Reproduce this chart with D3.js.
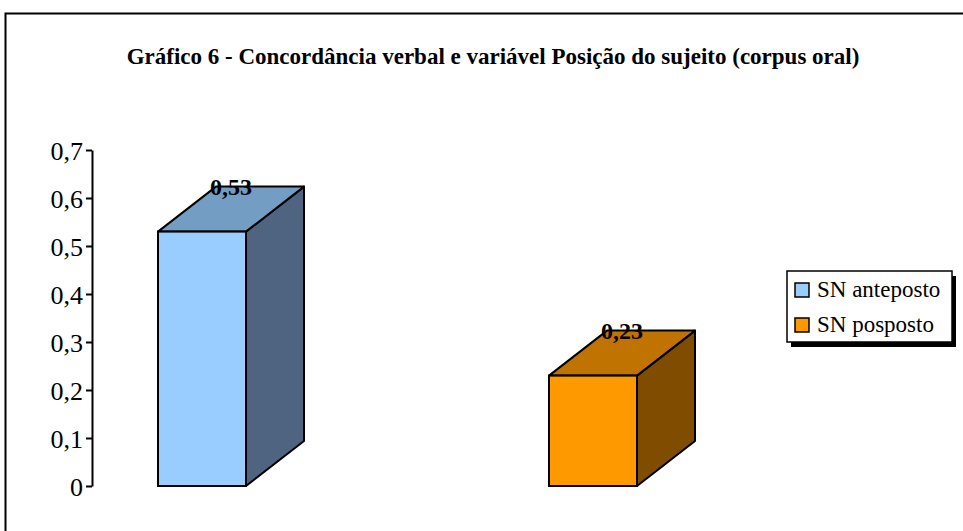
<!DOCTYPE html>
<html>
<head>
<meta charset="utf-8">
<script src="https://cdn.jsdelivr.net/npm/d3@7"></script>
<style>
  body { margin: 0; background: #fff; }
  svg { display: block; }
</style>
</head>
<body>
<div id="chart"></div>
<script>
// Data
const categories = ["SN anteposto", "SN posposto"];
const values = [0.53, 0.23];
const yTicks = [0, 0.1, 0.2, 0.3, 0.4, 0.5, 0.6, 0.7];
const title = "Gráfico 6 - Concordância verbal e variável Posição do sujeito (corpus oral)";

// Colours: front, side, top
const palette = [
    { front: "#99CCFF", side: "#4F6480", top: "#749DC4" },
    { front: "#FF9900", side: "#7F4C00", top: "#C07300" }
];

const width = 963;
const height = 531;
const font = "'Liberation Serif', 'Times New Roman', serif";

const svg = d3.select("#chart")
    .append("svg")
    .attr("width", width)
    .attr("height", height);

// Outer frame (only left and top edges visible)
svg.append("path")
    .attr("d", `M5.5,${height} L5.5,13.5 L${width},13.5`)
    .attr("fill", "none")
    .attr("stroke", "#000")
    .attr("stroke-width", 2);

// Title
svg.append("text")
    .attr("x", 493)
    .attr("y", 64)
    .attr("text-anchor", "middle")
    .style("font-family", font)
    .style("font-size", "23px")
    .style("font-weight", "bold")
    .text(title);

// Scales
const y = d3.scaleLinear()
    .domain([0, 0.7])
    .range([486, 150]);

const x = d3.scaleBand()
    .domain(categories)
    .range([92, 874]);

const barWidth = 88;
const barOffset = 66;
const depthX = 58;
const depthY = 45;

// Y axis
const yAxis = d3.axisLeft(y)
    .tickValues(yTicks)
    .tickSize(6)
    .tickSizeOuter(0)
    .tickPadding(3)
    .tickFormat(d => d === 0 ? "0" : d3.format(".1f")(d).replace(".", ","));

const gAxis = svg.append("g")
    .attr("transform", "translate(92,0)")
    .call(yAxis);

gAxis.select(".domain").attr("stroke-width", 2);
gAxis.selectAll(".tick line").attr("stroke-width", 2);
gAxis.selectAll(".tick text")
    .attr("dy", "0.38em")
    .style("font-family", font)
    .style("font-size", "26px")
    .attr("fill", "#000");

// 3D bars
const bars = svg.selectAll(".bar")
    .data(values)
    .enter()
    .append("g")
    .attr("class", "bar");

bars.each(function (v, i) {
    const g = d3.select(this);
    const x0 = x(categories[i]) + barOffset;
    const x1 = x0 + barWidth;
    const yTop = y(v);
    const yBase = y(0);
    const c = palette[i];

    // side face
    g.append("polygon")
        .attr("points", [[x1, yBase], [x1 + depthX, yBase - depthY], [x1 + depthX, yTop - depthY], [x1, yTop]].join(" "))
        .attr("fill", c.side)
        .attr("stroke", "#000")
        .attr("stroke-width", 2)
        .attr("stroke-linejoin", "round");

    // top face
    g.append("polygon")
        .attr("points", [[x0, yTop], [x0 + depthX, yTop - depthY], [x1 + depthX, yTop - depthY], [x1, yTop]].join(" "))
        .attr("fill", c.top)
        .attr("stroke", "#000")
        .attr("stroke-width", 2)
        .attr("stroke-linejoin", "round");

    // front face
    g.append("rect")
        .attr("x", x0)
        .attr("y", yTop)
        .attr("width", barWidth)
        .attr("height", yBase - yTop)
        .attr("fill", c.front)
        .attr("stroke", "#000")
        .attr("stroke-width", 2);

    // value label
    g.append("text")
        .attr("x", (x0 + x1 + depthX) / 2)
        .attr("y", yTop - depthY + 8)
        .attr("text-anchor", "middle")
        .style("font-family", font)
        .style("font-size", "24px")
        .style("font-weight", "bold")
        .text(d3.format(".2f")(v).replace(".", ","));
});

// Legend
const legend = svg.append("g").attr("transform", "translate(787,271)");

legend.append("rect")
    .attr("x", 4)
    .attr("y", 5)
    .attr("width", 165)
    .attr("height", 71)
    .attr("fill", "#000");

legend.append("rect")
    .attr("x", 0)
    .attr("y", 0)
    .attr("width", 165)
    .attr("height", 71)
    .attr("fill", "#fff")
    .attr("stroke", "#000")
    .attr("stroke-width", 1.5);

const items = legend.selectAll(".item")
    .data(categories)
    .enter()
    .append("g")
    .attr("class", "item")
    .attr("transform", (d, i) => `translate(8,${12 + i * 35})`);

items.append("rect")
    .attr("width", 14)
    .attr("height", 14)
    .attr("fill", (d, i) => palette[i].front)
    .attr("stroke", "#000")
    .attr("stroke-width", 1.5);

items.append("text")
    .attr("x", 22)
    .attr("y", 14)
    .style("font-family", font)
    .style("font-size", "23px")
    .text(d => d);
</script>
</body>
</html>
